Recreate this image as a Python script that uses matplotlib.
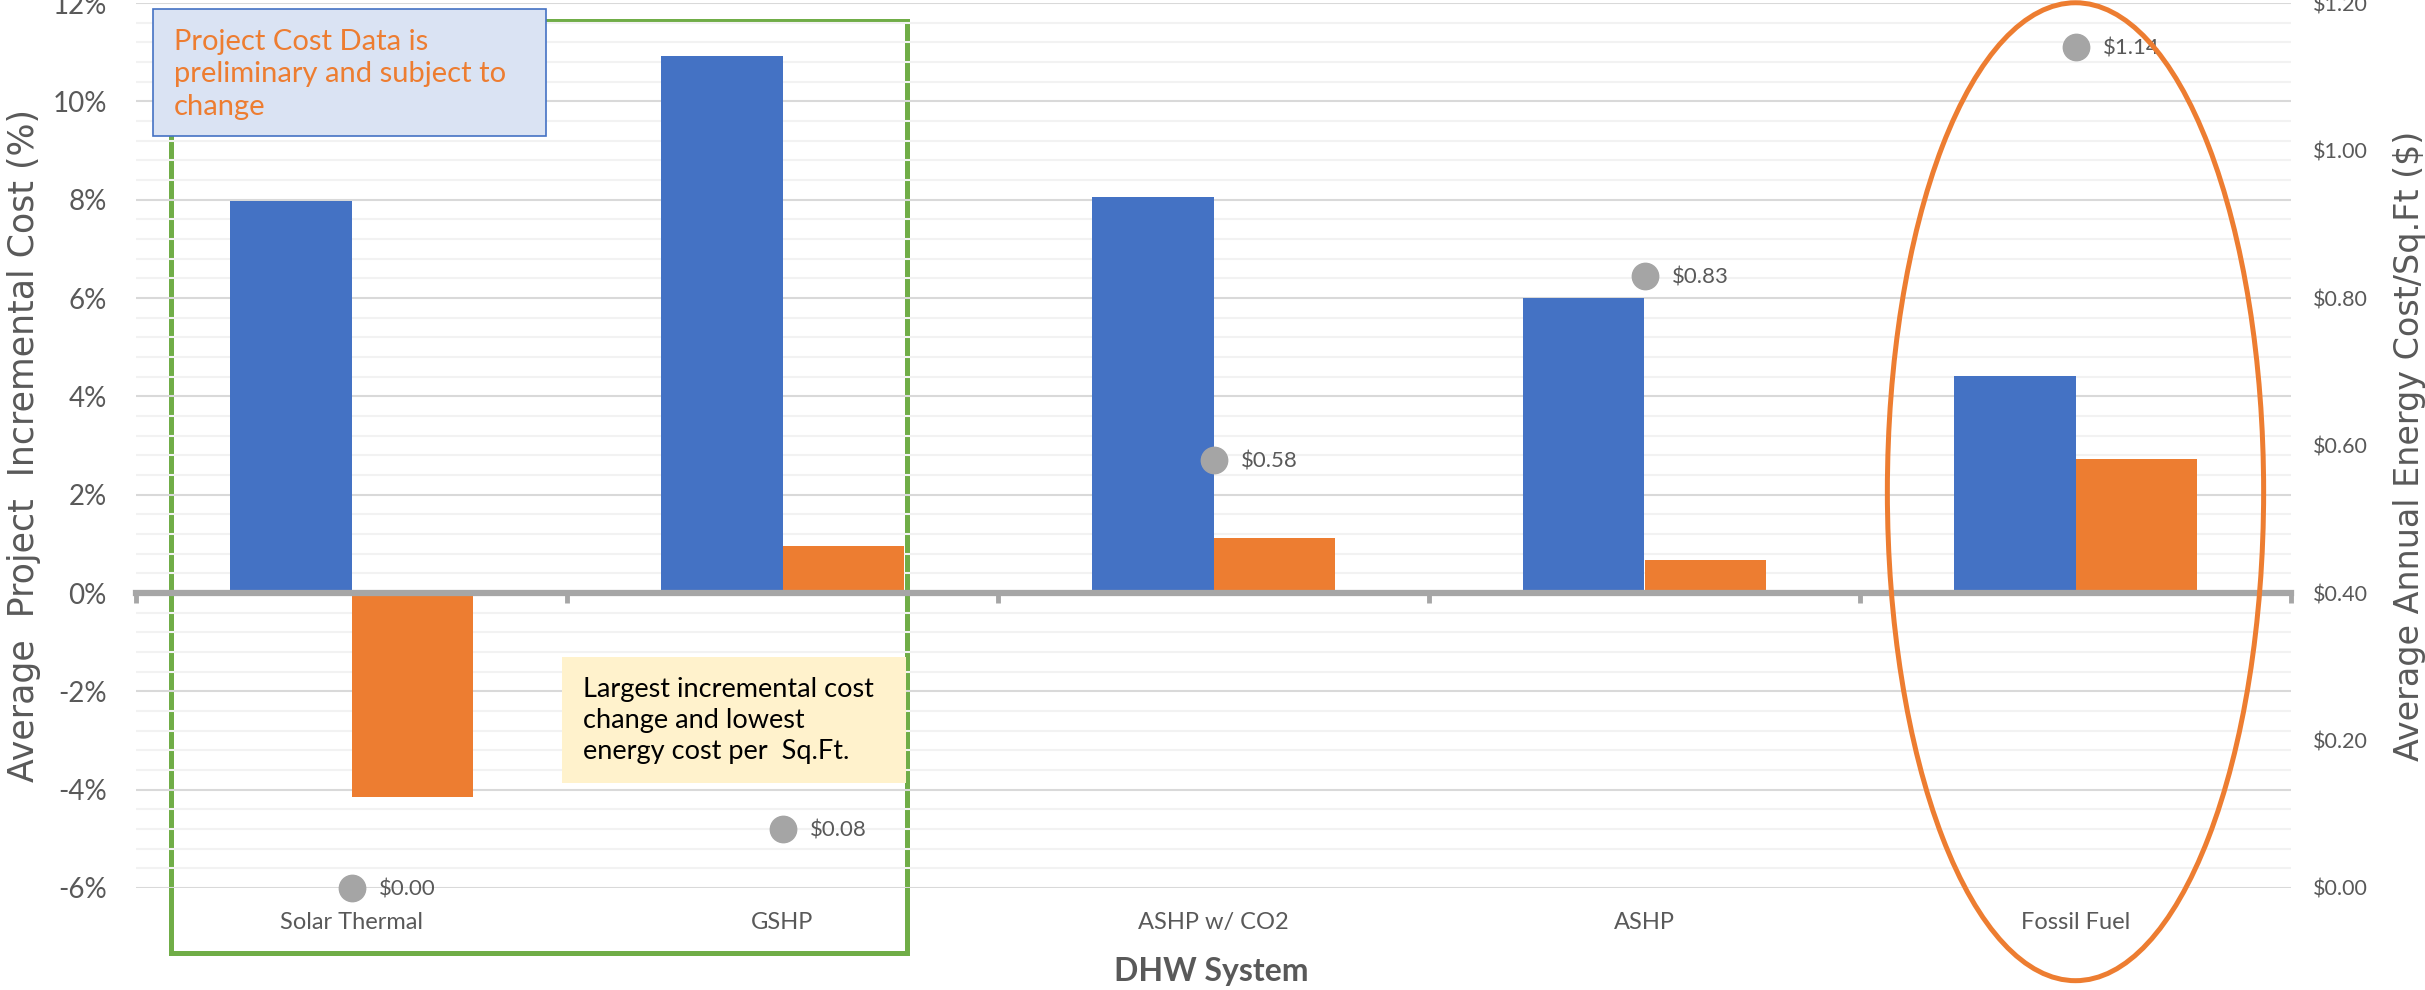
import matplotlib.pyplot as plt
import numpy as np
from matplotlib.patches import Rectangle, Ellipse

# DHW systems and their results
systems = ["Solar Thermal", "GSHP", "ASHP w/ CO2", "ASHP", "Fossil Fuel"]
incremental_cost = [7.98, 10.92, 8.05, 6.01, 4.41]      # % (left axis)
energy_change = [-4.15, 0.95, 1.12, 0.67, 2.72]         # % (left axis)
energy_cost_sqft = [0.00, 0.08, 0.58, 0.83, 1.14]       # $/sq.ft (right axis)
cost_labels = ["$0.00", "$0.08", "$0.58", "$0.83", "$1.14"]

BLUE = "#4472C4"
ORANGE = "#ED7D31"
GREEN = "#70AD47"
DOT = "#A5A5A5"
TXT = "#595959"

W, H = 2425, 990
fig = plt.figure(figsize=(W / 100, H / 100), dpi=100)
ax = fig.add_axes([136 / W, 1 - 888 / H, (2291 - 136) / W, (888 - 3) / H])

x = np.arange(len(systems))
bw = 0.283

ax.bar(x - bw / 2, incremental_cost, bw, color=BLUE, zorder=1)
ax.bar(x + bw / 2, energy_change, bw, color=ORANGE, zorder=1)

ax.set_xlim(-0.5, 4.5)
ax.set_ylim(-6, 12)

# gridlines: majors every 2 %, minors every 0.4 %
ax.set_yticks(np.arange(-6, 12.1, 2))
ax.set_yticks(np.arange(-6, 12.1, 0.4), minor=True)
ax.set_yticklabels([f"{v:.0f}%" for v in np.arange(-6, 12.1, 2)])
ax.set_axisbelow(True)
ax.grid(axis="y", which="major", color="#D9D9D9", linewidth=1.5)
ax.grid(axis="y", which="minor", color="#F2F2F2", linewidth=1.5)
ax.tick_params(axis="y", which="both", length=0, pad=21, labelsize=20,
               labelcolor=TXT)
for lab in ax.get_yticklabels():
    lab.set_fontfamily("Lato")

# category axis sits on the 0 % line
for s in ["left", "right", "top"]:
    ax.spines[s].set_visible(False)
ax.spines["bottom"].set_position(("data", 0))
ax.spines["bottom"].set_color("#A6A6A6")
ax.spines["bottom"].set_linewidth(4.5)
ax.spines["bottom"].set_zorder(2.5)
ax.set_xticks(np.arange(-0.5, 4.6, 1))
ax.set_xticklabels([])
ax.tick_params(axis="x", direction="out", length=7, width=3.5, color="#A6A6A6")

for i, name in enumerate(systems):
    ax.annotate(name, xy=(i, 0), xycoords=("data", "axes fraction"),
                xytext=(0, -25), textcoords="offset points",
                ha="center", va="center", fontsize=17, color=TXT,
                fontfamily="Lato")

# energy cost per sq.ft on the secondary axis
ax2 = ax.twinx()
ax2.set_ylim(0, 1.2)
ax2.set_yticks(np.arange(0, 1.21, 0.2))
ax2.set_yticklabels([f"${v:.2f}" for v in np.arange(0, 1.21, 0.2)])
ax2.tick_params(axis="y", length=0, pad=16, labelsize=15.5, labelcolor=TXT)
for lab in ax2.get_yticklabels():
    lab.set_fontfamily("Lato")
for s in ax2.spines.values():
    s.set_visible(False)
ax2.plot(x, energy_cost_sqft, "o", color=DOT, markersize=19, clip_on=False,
         zorder=3)
for i, (v, lab) in enumerate(zip(energy_cost_sqft, cost_labels)):
    ax2.annotate(lab, xy=(i, v), xytext=(20, -1), textcoords="offset points",
                 ha="left", va="center", fontsize=16, color=TXT,
                 fontfamily="Lato")

# green frame around the heat-pump / solar group
ax.add_patch(Rectangle((-0.4187, -7.32), 1.2886 + 0.4187, 11.63 + 7.32,
                       fill=False, edgecolor=GREEN, linewidth=3.6,
                       zorder=0.4, clip_on=False))

# callout boxes
ax.add_patch(Rectangle((-0.46, 9.29), 0.46 + 0.4523, 11.88 - 9.29,
                       facecolor="#DAE3F3", edgecolor=BLUE, linewidth=1.2,
                       zorder=4, clip_on=False))
ax.text(-0.412, 10.55, "Project Cost Data is\npreliminary and subject to\nchange",
        ha="left", va="center", fontsize=21, color=ORANGE, fontfamily="Lato",
        linespacing=1.3, zorder=5)

ax.add_patch(Rectangle((0.4873, -3.86), 1.2863 - 0.4873, 3.86 - 1.30,
                       facecolor="#FFF2CC", edgecolor="none", zorder=4))
ax.text(0.536, -2.6, "Largest incremental cost\nchange and lowest\nenergy cost per  Sq.Ft.",
        ha="left", va="center", fontsize=19.5, color="black", fontfamily="Lato",
        linespacing=1.3, zorder=5)

# orange ring around fossil fuel
ax2.add_patch(Ellipse((4.0, 2.06), 0.873, 19.89, fill=False, edgecolor=ORANGE,
                      linewidth=3.6, transform=ax.transData, clip_on=False,
                      zorder=6))

# axis titles
fig.text(24 / W, 1 - 446 / H, "Average  Project  Incremental Cost (%)",
         rotation=90, ha="center", va="center", fontsize=25, color=TXT,
         fontfamily="DejaVu Sans")
fig.text(2410 / W, 1 - 446 / H, "Average Annual Energy Cost/Sq.Ft ($)",
         rotation=90, ha="center", va="center", fontsize=24, color=TXT,
         fontfamily="DejaVu Sans")
fig.text(1211 / W, 1 - 971 / H, "DHW System", ha="center", va="center",
         fontsize=23, fontweight="bold", color=TXT, fontfamily="Lato")

fig.savefig("out.png", dpi=100, facecolor="white")
